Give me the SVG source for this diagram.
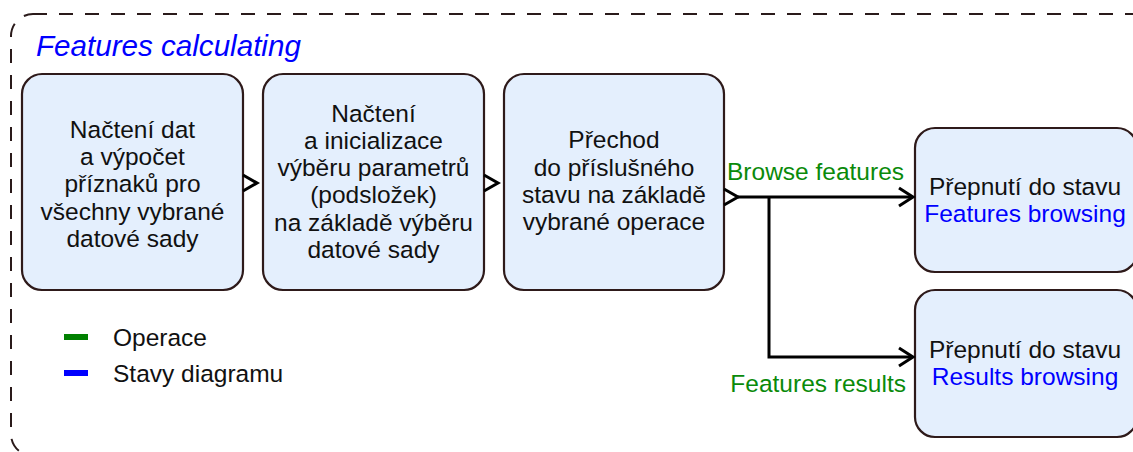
<svg xmlns="http://www.w3.org/2000/svg" width="1133" height="452" viewBox="0 0 1133 452">
<style>
.box{fill:#e4effd;stroke:#2e1a1a;stroke-width:2.2}
.t{font-family:"Liberation Sans",Arial,sans-serif;font-size:24.5px;fill:#111;text-anchor:middle}
.blue{fill:#0000ff}
.green{fill:#0a8a0a}
.con{fill:none;stroke:#000;stroke-width:3}
</style>
<rect x="11" y="14" width="1142" height="442" rx="22" fill="none" stroke="#2a1a1a" stroke-width="2" stroke-dasharray="14 12"/>
<text x="36" y="56" style="font-family:'Liberation Sans',Arial,sans-serif;font-size:29.6px;font-style:italic;fill:#0000ff">Features calculating</text>
<g id="n1">
<rect class="box" x="22" y="74" width="221" height="216" rx="20"/>
<text class="t" x="132.5" y="138">Načtení dat</text>
<text class="t" x="132.5" y="165">a výpočet</text>
<text class="t" x="132.5" y="192">příznaků pro</text>
<text class="t" x="132.5" y="220">všechny vybrané</text>
<text class="t" x="132.5" y="247">datové sady</text>
</g>
<g id="n2">
<rect class="box" x="263" y="74" width="221" height="216" rx="20"/>
<text class="t" x="373.5" y="122">Načtení</text>
<text class="t" x="373.5" y="149">a inicializace</text>
<text class="t" x="373.5" y="176">výběru parametrů</text>
<text class="t" x="373.5" y="203">(podsložek)</text>
<text class="t" x="373.5" y="231">na základě výběru</text>
<text class="t" x="373.5" y="258">datové sady</text>
</g>
<g id="n3">
<rect class="box" x="504" y="74" width="220" height="216" rx="20"/>
<text class="t" x="614" y="148">Přechod</text>
<text class="t" x="614" y="176">do příslušného</text>
<text class="t" x="614" y="203">stavu na základě</text>
<text class="t" x="614" y="230">vybrané operace</text>
</g>
<g id="n4">
<rect class="box" x="915" y="128" width="222" height="144" rx="20"/>
<text class="t" x="1025" y="195">Přepnutí do stavu</text>
<text class="t blue" x="1025" y="222">Features browsing</text>
</g>
<g id="n5">
<rect class="box" x="915" y="290" width="222" height="147" rx="20"/>
<text class="t" x="1025" y="358">Přepnutí do stavu</text>
<text class="t blue" x="1025" y="385">Results browsing</text>
</g>
<g id="connectors">
<path class="con" d="M243,175 L257,183 L243,191"/>
<path class="con" d="M484,175 L498,183 L484,191"/>
<path class="con" d="M724,189 L738,197 L724,205"/>
<path class="con" d="M738,197 L912,197"/>
<path class="con" d="M899,188 L913,197 L899,206"/>
<path class="con" d="M769,197 L769,357 L912,357"/>
<path class="con" d="M899,348 L913,357 L899,366"/>
<text class="t green" x="727" y="180" style="text-anchor:start">Browse features</text>
<text class="t green" x="906" y="392" style="text-anchor:end">Features results</text>
</g>
<g id="legend">
<rect x="64" y="334" width="24" height="6" fill="#008000"/>
<rect x="64" y="370" width="24" height="6" fill="#0000ff"/>
<text class="t" x="113" y="346" style="text-anchor:start">Operace</text>
<text class="t" x="113" y="382" style="text-anchor:start">Stavy diagramu</text>
</g>
</svg>
